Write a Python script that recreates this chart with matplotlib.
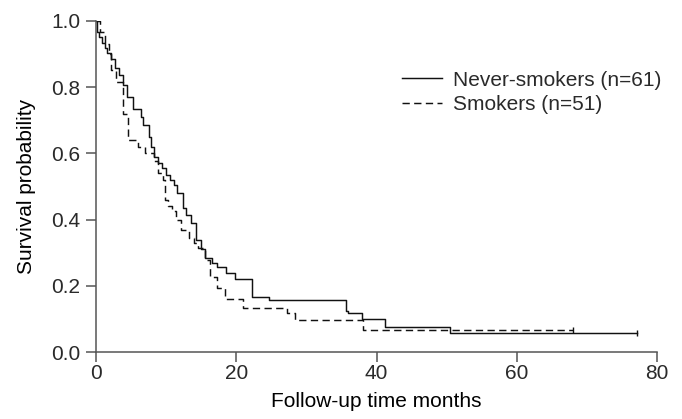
import numpy as np
import matplotlib.pyplot as plt

# Kaplan-Meier steps (time in months, survival after the drop)
never_times = [0.2, 0.4, 0.8, 1.3, 1.6, 2.2, 2.7, 3.3, 3.8, 4.4, 5.3, 6.4, 6.7, 7.5, 7.9,
               8.3, 8.9, 9.4, 10.0, 10.6, 11.1, 11.6, 12.4, 12.9, 13.5, 14.3, 15.0, 15.5,
               16.6, 17.3, 18.6, 19.8, 22.2, 24.6, 35.7, 36.0, 37.9, 41.2, 50.5]
never_surv = [0.967, 0.951, 0.934, 0.918, 0.902, 0.885, 0.857, 0.836, 0.807, 0.771, 0.734,
              0.710, 0.686, 0.650, 0.620, 0.590, 0.571, 0.555, 0.535, 0.520, 0.505, 0.480,
              0.435, 0.414, 0.390, 0.338, 0.310, 0.285, 0.270, 0.257, 0.238, 0.220, 0.167,
              0.157, 0.125, 0.118, 0.099, 0.077, 0.058]
never_end = 77.2

smoker_times = [0.6, 1.3, 1.8, 2.2, 2.9, 3.8, 4.6, 6.0, 7.0, 8.2, 8.8, 9.6, 9.8, 10.3, 10.9,
                11.4, 12.1, 13.3, 14.0, 14.6, 15.6, 16.3, 17.3, 18.4, 21.0, 27.2, 28.4, 38.1]
smoker_surv = [0.968, 0.932, 0.900, 0.852, 0.817, 0.720, 0.640, 0.620, 0.600, 0.577, 0.540,
               0.520, 0.460, 0.440, 0.425, 0.400, 0.370, 0.345, 0.330, 0.314, 0.278, 0.227,
               0.193, 0.160, 0.133, 0.118, 0.097, 0.066]
smoker_end = 68.0

labels = ['Never-smokers (n=61)', 'Smokers (n=51)']

plt.rcParams['font.family'] = ['Liberation Sans', 'DejaVu Sans']
plt.rcParams['text.color'] = '#2a2a2a'

fig = plt.figure(figsize=(6.82, 4.19), dpi=100)
ax = fig.add_axes([96 / 682, 1 - 352 / 419, 561 / 682, 331 / 419])

def km_line(times, surv, end, style, label):
    x = np.r_[0, times, end]
    y = np.r_[1.0, surv, surv[-1]]
    ax.step(x, y, where='post', color='#111111', lw=1.05, linestyle=style, label=label)
    # censor mark at the end of follow-up
    ax.plot([end], [surv[-1]], marker='|', ms=5, mew=1.0, color='#111111')

km_line(never_times, never_surv, never_end, '-', labels[0])
km_line(smoker_times, smoker_surv, smoker_end, (0, (5, 3)), labels[1])

ax.set_xlim(0, 80)
ax.set_ylim(0, 1.0)
ax.set_xticks([0, 20, 40, 60, 80])
ax.set_yticks([0.0, 0.2, 0.4, 0.6, 0.8, 1.0])
ax.yaxis.set_major_formatter(plt.FuncFormatter(lambda v, p: f'{v:.1f}'))

for side in ['top', 'right']:
    ax.spines[side].set_visible(False)
for side in ['left', 'bottom']:
    ax.spines[side].set_color('#555555')
    ax.spines[side].set_linewidth(1.1)
ax.tick_params(direction='out', length=7, width=1.1, color='#555555',
               labelsize=15, labelcolor='#2a2a2a', pad=4.3)
ax.tick_params(axis='x', pad=1.5)

ax.set_xlabel('Follow-up time months', fontsize=15, labelpad=6.8)
ax.set_ylabel('Survival probability', fontsize=15, labelpad=10.5)

ax.legend(loc='upper left', bbox_to_anchor=(0.545, 0.85), frameon=False, fontsize=15,
          handlelength=1.95, handletextpad=0.5, labelspacing=0.25, borderpad=0,
          borderaxespad=0)

fig.savefig('out.png', dpi=100)
